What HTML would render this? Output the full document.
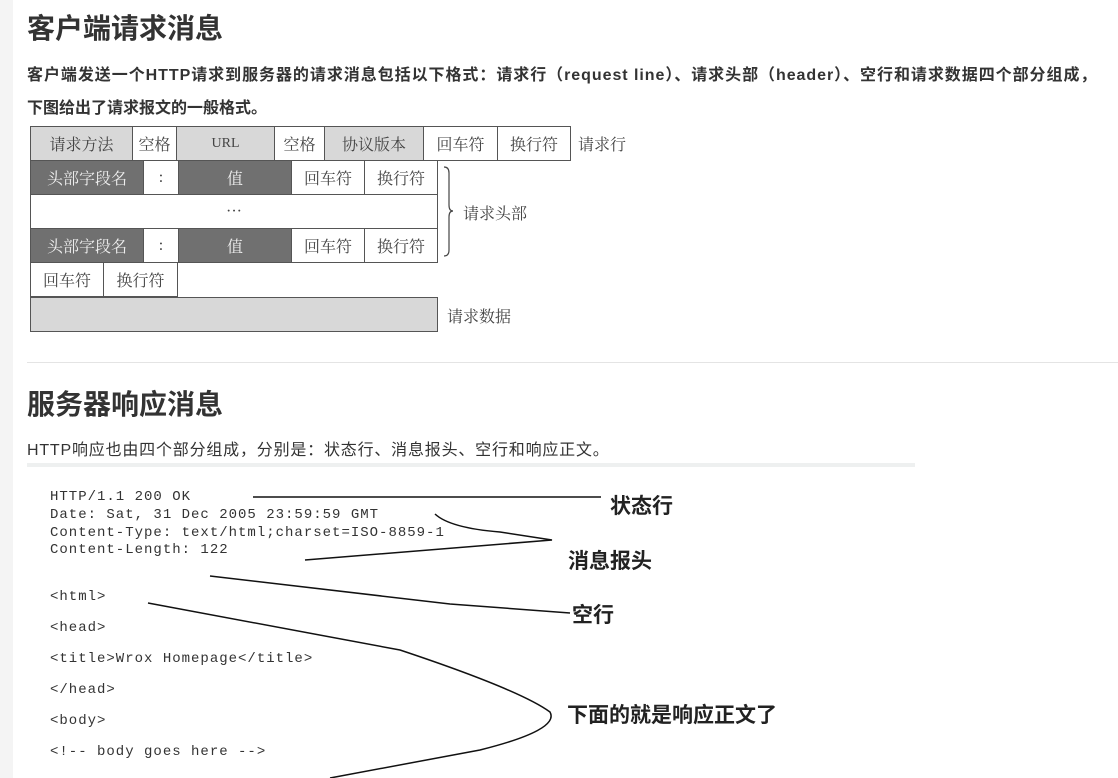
<!DOCTYPE html><html><head><meta charset="utf-8"><style>
body{margin:0;width:1118px;height:778px;overflow:hidden;background:#fff;position:relative;font-family:"Liberation Sans","Noto Sans CJK SC",sans-serif;color:#333}
.a{position:absolute;white-space:nowrap}
.c{position:absolute;box-sizing:border-box;border:1px solid #555;display:flex;align-items:center;justify-content:center;font-family:"Liberation Serif","Noto Serif CJK SC",serif;font-size:16px;color:#444}
.g{background:#d8d8d8}.d{background:#707070;color:#eee}
.m{position:absolute;left:50px;font-family:"Liberation Mono",monospace;font-size:14px;letter-spacing:1px;color:#333;white-space:nowrap}
.b{position:absolute;font-weight:bold;font-size:21px;color:#222;font-family:"Liberation Sans","Noto Sans CJK SC",sans-serif;white-space:nowrap}
</style></head><body>
<div class="a" style="left:0;top:0;width:13px;height:778px;background:#f4f4f4"></div>
<div class="a" style="left:27px;top:7px;font-size:28px;font-weight:bold;color:#333">客户端请求消息</div>
<div class="a" style="left:27px;top:61px;font-size:16px;font-weight:bold;color:#333;letter-spacing:0.95px">客户端发送一个HTTP请求到服务器的请求消息包括以下格式：请求行（request line）、请求头部（header）、空行和请求数据四个部分组成，</div>
<div class="a" style="left:27px;top:94px;font-size:16px;font-weight:bold;color:#333">下图给出了请求报文的一般格式。</div>

<div class="c g" style="left:30px;top:126px;width:103px;height:35px">请求方法</div>
<div class="c" style="left:132px;top:126px;width:45px;height:35px">空格</div>
<div class="c g" style="left:176px;top:126px;width:99px;height:35px;font-size:14px">URL</div>
<div class="c" style="left:274px;top:126px;width:51px;height:35px">空格</div>
<div class="c g" style="left:324px;top:126px;width:100px;height:35px">协议版本</div>
<div class="c" style="left:423px;top:126px;width:75px;height:35px">回车符</div>
<div class="c" style="left:497px;top:126px;width:74px;height:35px">换行符</div>
<div class="a" style="left:578px;top:132px;font-size:16px;color:#444;font-family:'Liberation Serif','Noto Serif CJK SC',serif">请求行</div>

<div class="c d" style="left:30px;top:160px;width:114px;height:35px">头部字段名</div>
<div class="c" style="left:143px;top:160px;width:36px;height:35px">:</div>
<div class="c d" style="left:178px;top:160px;width:114px;height:35px">值</div>
<div class="c" style="left:291px;top:160px;width:74px;height:35px">回车符</div>
<div class="c" style="left:364px;top:160px;width:74px;height:35px">换行符</div>
<div class="c" style="left:30px;top:194px;width:408px;height:35px">···</div>
<div class="c d" style="left:30px;top:228px;width:114px;height:35px">头部字段名</div>
<div class="c" style="left:143px;top:228px;width:36px;height:35px">:</div>
<div class="c d" style="left:178px;top:228px;width:114px;height:35px">值</div>
<div class="c" style="left:291px;top:228px;width:74px;height:35px">回车符</div>
<div class="c" style="left:364px;top:228px;width:74px;height:35px">换行符</div>
<div class="c" style="left:30px;top:262px;width:74px;height:35px">回车符</div>
<div class="c" style="left:103px;top:262px;width:75px;height:35px">换行符</div>
<div class="c g" style="left:30px;top:297px;width:408px;height:35px"></div>
<svg class="a" style="left:440px;top:165px" width="20" height="95"><path d="M4 2 Q9 2 9 8 L9 40 Q9 46 13 46 Q9 46 9 52 L9 85 Q9 91 4 91" fill="none" stroke="#444" stroke-width="1.2"/></svg>
<div class="a" style="left:463px;top:201px;font-size:16px;color:#444;font-family:'Liberation Serif','Noto Serif CJK SC',serif">请求头部</div>
<div class="a" style="left:447px;top:304px;font-size:16px;color:#444;font-family:'Liberation Serif','Noto Serif CJK SC',serif">请求数据</div>

<div class="a" style="left:27px;top:362px;width:1091px;height:1px;background:#e4e4e4"></div>
<div class="a" style="left:27px;top:383px;font-size:28px;font-weight:bold;color:#333">服务器响应消息</div>
<div class="a" style="left:27px;top:436px;font-size:16px;color:#333;letter-spacing:0.8px">HTTP响应也由四个部分组成，分别是：状态行、消息报头、空行和响应正文。</div>
<div class="a" style="left:27px;top:463px;width:888px;height:4px;background:#eef0f0"></div>

<div class="m" style="top:489px">HTTP/1.1 200 OK</div>
<div class="m" style="top:507px">Date: Sat, 31 Dec 2005 23:59:59 GMT</div>
<div class="m" style="top:525px">Content-Type: text/html;charset=ISO-8859-1</div>
<div class="m" style="top:542px">Content-Length: 122</div>
<div class="m" style="top:589px">&lt;html&gt;</div>
<div class="m" style="top:620px">&lt;head&gt;</div>
<div class="m" style="top:651px">&lt;title&gt;Wrox Homepage&lt;/title&gt;</div>
<div class="m" style="top:682px">&lt;/head&gt;</div>
<div class="m" style="top:713px">&lt;body&gt;</div>
<div class="m" style="top:744px">&lt;!-- body goes here --&gt;</div>
<svg class="a" style="left:0;top:0" width="1118" height="778"><g fill="none" stroke="#111" stroke-width="1.5">
<path d="M253 497 L601 497"/>
<path d="M435 514 Q450 528 500 532 L552 540 L305 560"/>
<path d="M210 576 L450 604 L570 613"/>
<path d="M148 603 L400 650 Q520 690 550 712 Q560 730 480 750 L330 778"/>
</g></svg>
<div class="b" style="left:610px;top:490px">状态行</div>
<div class="b" style="left:568px;top:545px">消息报头</div>
<div class="b" style="left:572px;top:599px">空行</div>
<div class="b" style="left:567px;top:699px">下面的就是响应正文了</div>
</body></html>
